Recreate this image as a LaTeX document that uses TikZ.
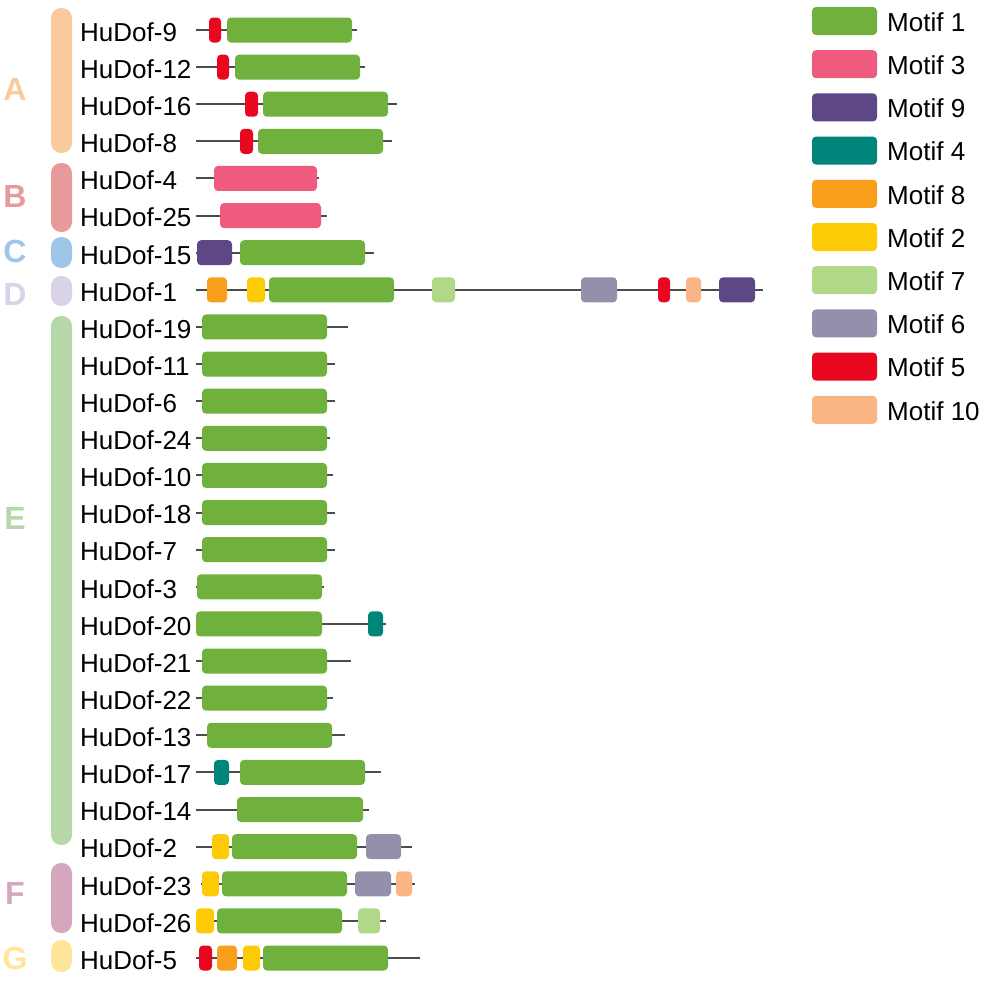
\documentclass[tikz,border=0pt]{standalone}
\usepackage{fontspec}
\setmainfont{Liberation Sans}
\usepackage{tikz}
\usepackage{xcolor}
\definecolor{m1}{HTML}{6FB13C}
\definecolor{m2}{HTML}{FDCB05}
\definecolor{m3}{HTML}{EF5B7E}
\definecolor{m4}{HTML}{00857A}
\definecolor{m5}{HTML}{E8071F}
\definecolor{m6}{HTML}{948FAA}
\definecolor{m7}{HTML}{B1D886}
\definecolor{m8}{HTML}{F99F1C}
\definecolor{m9}{HTML}{5E4785}
\definecolor{m10}{HTML}{FBB584}
\definecolor{grpA}{HTML}{F9CB9C}
\definecolor{grpB}{HTML}{E89A9A}
\definecolor{grpC}{HTML}{9FC5E8}
\definecolor{grpD}{HTML}{D9D2E9}
\definecolor{grpE}{HTML}{B6D7A8}
\definecolor{grpF}{HTML}{D5A6BD}
\definecolor{grpG}{HTML}{FFE599}
\tikzset{
    gene-label/.style = {anchor=west, inner sep=0pt, font=\fontsize{26}{30}\selectfont},
    backbone/.style = {draw=black!70, line width=2pt},
    motif-box/.style = {rounded corners=4pt},
    group-bar/.style = {rounded corners=10pt},
    group-letter/.style = {inner sep=0pt, font=\fontsize{32}{36}\selectfont\bfseries},
    legend-text/.style = {anchor=west, inner sep=0pt, font=\fontsize{26}{30}\selectfont},
}

\begin{document}
\begin{tikzpicture}[x=1pt,y=-1pt]
\useasboundingbox (0,0) rectangle (987,980);

% groups
\foreach \g/\top/\bot/\ly in {A/8/153/89, B/163/232/196, C/237/268/251, D/276/306/294, E/316/845/518, F/863/933/893, G/940/972/958}{
    \fill[group-bar, fill=grp\g] (51,\top) rectangle (72,\bot);
    \node[group-letter, text=grp\g] (grp\g) at (15,\ly) {\g};
}

% genes and backbones
\foreach \i/\name/\s/\e in {0/9/196/357, 1/12/196/365, 2/16/196/397, 3/8/196/392,
    4/4/196/319, 5/25/196/327, 6/15/196/374, 7/1/196/763, 8/19/196/348,
    9/11/196/335, 10/6/196/335, 11/24/196/330, 12/10/196/333, 13/18/196/335,
    14/7/196/335, 15/3/196/324, 16/20/196/386, 17/21/196/351, 18/22/196/333,
    19/13/196/345, 20/17/196/381, 21/14/196/369, 22/2/196/412, 23/23/201/415,
    24/26/196/386, 25/5/196/420}{
    \node[gene-label] (hd\name) at (80,30+37.12*\i+2) {HuDof-\name};
    \coordinate (bb\name-s) at (\s,30+37.12*\i);
    \coordinate (bb\name-e) at (\e,30+37.12*\i);
    \draw[backbone] (bb\name-s) -- (bb\name-e);
}

% motifs
\foreach \c/\i/\a/\b in {m5/0/209/221, m1/0/227/352, m5/1/217/229, m1/1/235/360,
    m5/2/245/258, m1/2/263/388, m5/3/240/253, m1/3/258/383,
    m3/4/214/317, m3/5/220/321, m9/6/197/232, m1/6/240/365,
    m8/7/207/227, m2/7/247/265, m1/7/269/394, m7/7/432/455,
    m6/7/581/617, m5/7/658/670, m10/7/686/701, m9/7/719/755,
    m1/8/202/327, m1/9/202/327, m1/10/202/327, m1/11/202/327,
    m1/12/202/327, m1/13/202/327, m1/14/202/327, m1/15/197/322,
    m1/16/196/322, m4/16/368/383, m1/17/202/327, m1/18/202/327,
    m1/19/207/332, m4/20/214/229, m1/20/240/365, m1/21/237/363,
    m2/22/212/229, m1/22/232/357, m6/22/366/401,
    m2/23/202/219, m1/23/222/347, m6/23/355/391, m10/23/396/412,
    m2/24/196/214, m1/24/217/342, m7/24/358/380,
    m5/25/199/212, m8/25/217/237, m2/25/243/260, m1/25/263/388}{
    \fill[motif-box, fill=\c] (\a,30+37.12*\i-12.5) rectangle (\b,30+37.12*\i+12.5);
}

% legend
\foreach \k/\c/\n in {0/m1/1, 1/m3/3, 2/m9/9, 3/m4/4, 4/m8/8, 5/m2/2, 6/m7/7, 7/m6/6, 8/m5/5, 9/m10/10}{
    \fill[motif-box, fill=\c] (812,21+43.2*\k-14) rectangle (877,21+43.2*\k+14);
    \node[legend-text] (leg\n) at (887,21+43.2*\k+1) {Motif \n};
}
\end{tikzpicture}
\end{document}
